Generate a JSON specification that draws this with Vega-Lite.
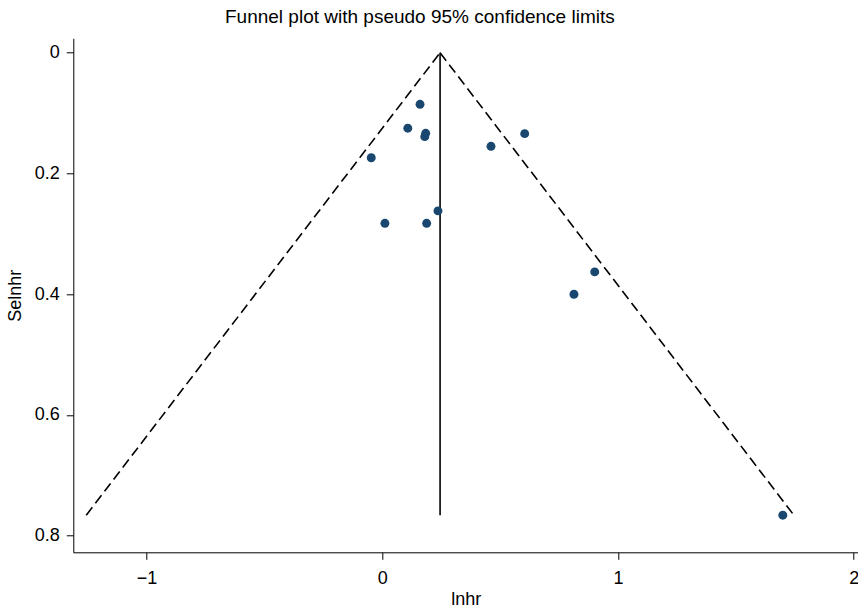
{
  "$schema": "https://vega.github.io/schema/vega-lite/v6.json",
  "autosize": {"type": "none"},
  "padding": {"left": 73.3, "top": 38.3, "right": 0, "bottom": 55.7},
  "width": 784.7,
  "height": 514,
  "background": "white",
  "config": {
    "view": {"stroke": null},
    "font": "Liberation Sans",
    "axis": {
      "grid": false,
      "domainColor": "#000000",
      "domainWidth": 1,
      "tickColor": "#000000",
      "tickWidth": 1,
      "tickSize": 7,
      "labelFont": "Liberation Sans",
      "labelFontSize": 18,
      "labelColor": "#000000",
      "titleFont": "Liberation Sans",
      "titleFontSize": 18,
      "titleFontWeight": "normal",
      "titleColor": "#000000"
    }
  },
  "title": {
    "text": "Funnel plot with pseudo 95% confidence limits",
    "font": "Liberation Sans",
    "fontSize": 19,
    "fontWeight": "normal",
    "color": "#000000",
    "anchor": "start",
    "frame": "group",
    "dx": 151.7,
    "baseline": "alphabetic",
    "offset": -4
  },
  "datasets": {
    "funnel": [
      {"side": "left", "lnhr": 0.245, "se": 0},
      {"side": "left", "lnhr": -1.256, "se": 0.766},
      {"side": "right", "lnhr": 0.245, "se": 0},
      {"side": "right", "lnhr": 1.746, "se": 0.766}
    ],
    "pooled": [
      {"lnhr": 0.245, "se": 0, "se2": 0.766}
    ],
    "studies": [
      {"lnhr": 0.160, "se": 0.0855},
      {"lnhr": 0.108, "se": 0.125},
      {"lnhr": 0.184, "se": 0.1335},
      {"lnhr": 0.180, "se": 0.139},
      {"lnhr": -0.047, "se": 0.174},
      {"lnhr": 0.461, "se": 0.155},
      {"lnhr": 0.604, "se": 0.134},
      {"lnhr": 0.236, "se": 0.262},
      {"lnhr": 0.011, "se": 0.2826},
      {"lnhr": 0.188, "se": 0.2826},
      {"lnhr": 0.901, "se": 0.363},
      {"lnhr": 0.813, "se": 0.400},
      {"lnhr": 1.699, "se": 0.766}
    ]
  },
  "encoding": {
    "x": {
      "field": "lnhr",
      "type": "quantitative",
      "title": "lnhr",
      "scale": {"domain": [-1.311, 2.018], "nice": false, "zero": false},
      "axis": {"values": [-1, 0, 1, 2], "labelPadding": 10, "titlePadding": 3, "format": "d", "labelExpr": "replace(datum.label, '-', '\u2212')"}
    },
    "y": {
      "field": "se",
      "type": "quantitative",
      "title": "Selnhr",
      "scale": {"domain": [-0.0239, 0.8275], "nice": false, "zero": false, "reverse": true},
      "axis": {"values": [0, 0.2, 0.4, 0.6, 0.8], "labelPadding": 7, "titlePadding": 10, "labelExpr": "datum.value == 0 ? '0' : format(datum.value, '.1f')"}
    }
  },
  "layer": [
    {
      "data": {"name": "funnel"},
      "mark": {"type": "line", "color": "#000000", "strokeWidth": 1.6, "strokeDash": [10, 5]},
      "encoding": {"detail": {"field": "side"}}
    },
    {
      "data": {"name": "pooled"},
      "mark": {"type": "rule", "color": "#000000", "strokeWidth": 1.6},
      "encoding": {"y2": {"field": "se2"}}
    },
    {
      "data": {"name": "studies"},
      "mark": {"type": "point", "filled": true, "shape": "circle", "size": 80, "color": "#1a476f", "opacity": 1}
    }
  ]
}
